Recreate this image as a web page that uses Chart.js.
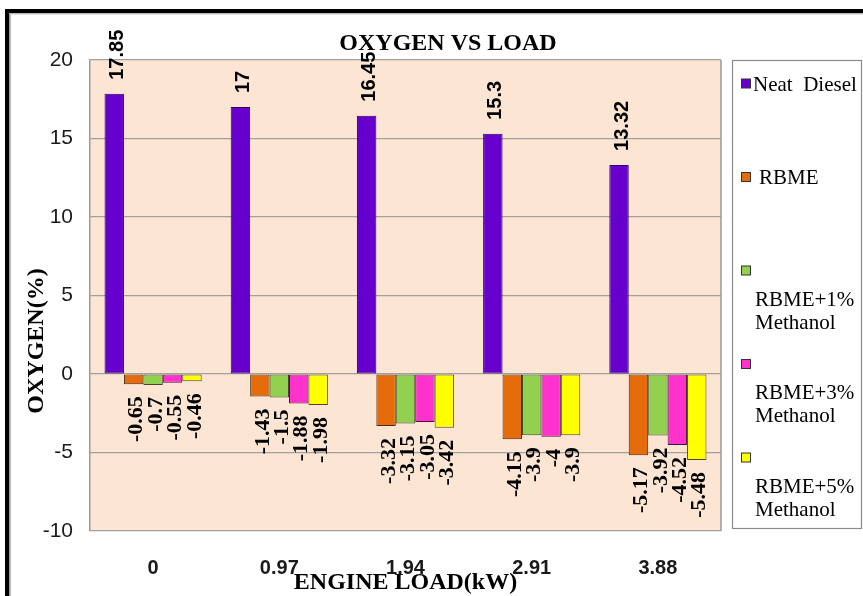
<!DOCTYPE html>
<html>
<head>
<meta charset="utf-8">
<title>OXYGEN VS LOAD</title>
<script src="https://cdn.jsdelivr.net/npm/chart.js@4.4.1/dist/chart.umd.min.js"></script>
<style>
  html, body { margin: 0; padding: 0; background: #ffffff; }
  #wrap { width: 863px; height: 596px; position: relative; }
  canvas { display: block; }
</style>
</head>
<body>
<div id="wrap"><canvas id="chart" width="863" height="596"></canvas></div>
<script>
// Engine load categories (kW)
const loads = ['0', '0.97', '1.94', '2.91', '3.88'];

// Oxygen (%) for each fuel
const neatDiesel = [17.85, 17, 16.45, 15.3, 13.32];
const rbme       = [-0.65, -1.43, -3.32, -4.15, -5.17];
const rbme1      = [-0.7, -1.5, -3.15, -3.9, -3.92];
const rbme3      = [-0.55, -1.88, -3.05, -4, -4.52];
const rbme5      = [-0.46, -1.98, -3.42, -3.9, -5.48];

const seriesNames = ['Neat  Diesel', 'RBME', 'RBME+1% Methanol', 'RBME+3% Methanol', 'RBME+5% Methanol'];
const seriesData = [neatDiesel, rbme, rbme1, rbme3, rbme5];
const fillColors = ['#6600CC', '#E46C0A', '#92D050', '#FF33CC', '#FFFF00'];
const edgeColors = ['#2e0060', '#4a2a10', '#3d4a2a', '#4a1040', '#4a4a20'];

// Y axis range
const yMin = -10, yMax = 20, yStep = 5;

const SERIF = '"Liberation Serif", "Times New Roman", Times, serif';
const SANS = '"Liberation Sans", Arial, Helvetica, sans-serif';

// Outer frame, plot background and right border of the plot area
const framePlugin = {
  id: 'frame',
  beforeDraw(chart) {
    const { ctx, chartArea: a, width, height } = chart;
    ctx.save();
    ctx.fillStyle = '#ffffff';
    ctx.fillRect(0, 0, width, height);
    // thick black frame (top and left)
    ctx.fillStyle = '#000000';
    ctx.fillRect(5, 9, width - 5, 4);
    ctx.fillRect(5, 9, 4.5, height - 9);
    // thin grey inner line
    ctx.fillStyle = '#bdbdbd';
    ctx.fillRect(9.5, 13, width - 9.5, 1.5);
    ctx.fillRect(9.5, 13, 1.5, height - 13);
    // peach plot background
    ctx.fillStyle = '#FDE5D3';
    ctx.fillRect(a.left, a.top, a.right - a.left, a.bottom - a.top);
    ctx.restore();
  },
  afterDraw(chart) {
    const { ctx, chartArea: a } = chart;
    ctx.save();
    ctx.strokeStyle = '#9a9a9a';
    ctx.lineWidth = 1.5;
    ctx.beginPath();
    ctx.moveTo(a.right, a.top);
    ctx.lineTo(a.right, a.bottom);
    ctx.stroke();
    ctx.restore();
  }
};

// Chart title and rotated y-axis title
const titlesPlugin = {
  id: 'titles',
  afterDraw(chart) {
    const { ctx } = chart;
    ctx.save();
    ctx.fillStyle = '#000000';
    ctx.font = 'bold 24px ' + SERIF;
    ctx.textAlign = 'center';
    ctx.textBaseline = 'alphabetic';
    ctx.fillText('OXYGEN VS LOAD', 448, 50);

    ctx.translate(43, 341);
    ctx.rotate(-Math.PI / 2);
    ctx.fillText('OXYGEN(%)', 0, 0);
    ctx.restore();
  }
};

// Rotated value labels above positive bars and below negative bars
const valueLabelsPlugin = {
  id: 'valueLabels',
  afterDatasetsDraw(chart) {
    const { ctx } = chart;
    ctx.save();
    ctx.fillStyle = '#000000';
    ctx.textBaseline = 'middle';
    chart.data.datasets.forEach((ds, di) => {
      const meta = chart.getDatasetMeta(di);
      meta.data.forEach((bar, i) => {
        const v = ds.data[i];
        const text = String(v);
        ctx.save();
        if (v >= 0) {
          ctx.font = 'bold 20px ' + SANS;
          ctx.translate(bar.x + 3, bar.y - 14);
          ctx.rotate(-Math.PI / 2);
          ctx.textAlign = 'left';
        } else {
          ctx.font = 'bold 22px ' + SERIF;
          ctx.translate(bar.x + 3, bar.y + 12);
          ctx.rotate(-Math.PI / 2);
          ctx.textAlign = 'right';
        }
        ctx.fillText(text, 0, 0);
        ctx.restore();
      });
    });
    ctx.restore();
  }
};

// Legend box on the right with stacked entries
const sideLegendPlugin = {
  id: 'sideLegend',
  afterDraw(chart) {
    const { ctx, chartArea: a } = chart;
    const left = a.right + 11, right = chart.width - 1;
    const top = a.top, bottom = a.bottom - 2;
    ctx.save();
    ctx.fillStyle = '#ffffff';
    ctx.fillRect(left, top, right - left, bottom - top);
    ctx.strokeStyle = '#8a8a8a';
    ctx.lineWidth = 1.2;
    ctx.strokeRect(left + 0.5, top + 0.5, right - left - 1, bottom - top - 1);

    ctx.font = '21px ' + SERIF;
    ctx.fillStyle = '#000000';
    ctx.textAlign = 'left';
    ctx.textBaseline = 'alphabetic';
    chart.data.datasets.forEach((ds, i) => {
      const cy = top + 23.5 + i * 93.5;
      const mx = left + 9;
      ctx.fillStyle = ds.backgroundColor;
      ctx.fillRect(mx, cy - 4.5, 10, 9);
      ctx.strokeStyle = '#333333';
      ctx.lineWidth = 1;
      ctx.strokeRect(mx + 0.5, cy - 4.5, 9, 9);
      ctx.fillStyle = '#000000';
      const lines = ds.label.includes('Methanol') ? ds.label.split(' ') : [ds.label];
      if (lines.length === 1) {
        ctx.fillText(lines[0], mx + (i === 0 ? 12 : 18), cy + 7);
      } else {
        ctx.fillText(lines[0], mx + 14, cy + 35);
        ctx.fillText(lines[1], mx + 14, cy + 58);
      }
    });
    ctx.restore();
  }
};

const datasets = seriesData.map((vals, i) => ({
  label: seriesNames[i],
  data: vals,
  backgroundColor: fillColors[i],
  borderColor: edgeColors[i],
  borderWidth: 1,
  borderSkipped: false,
  categoryPercentage: 0.77,
  barPercentage: 1.0
}));

new Chart(document.getElementById('chart'), {
  type: 'bar',
  data: { labels: loads, datasets },
  plugins: [framePlugin, valueLabelsPlugin, titlesPlugin, sideLegendPlugin],
  options: {
    responsive: false,
    devicePixelRatio: 1,
    animation: false,
    layout: { padding: { left: 0, top: 60, right: 142, bottom: 0 } },
    plugins: {
      legend: { display: false },
      title: { display: false },
      tooltip: { enabled: false }
    },
    scales: {
      x: {
        grid: { display: false, drawTicks: false },
        border: { display: false },
        ticks: {
          color: '#1a1a1a',
          font: { family: SANS, size: 20, weight: 'bold' },
          padding: 25,
          maxRotation: 0
        },
        title: {
          display: true,
          text: 'ENGINE LOAD(kW)',
          color: '#000000',
          font: { family: SERIF, size: 24, weight: 'bold', lineHeight: 1 },
          padding: { top: 0, bottom: 1 }
        },
        afterFit(scale) { scale.height = 65; }
      },
      y: {
        min: yMin,
        max: yMax,
        grid: { color: '#a0a0a0', lineWidth: 1.2, drawTicks: false },
        border: { display: true, color: '#9a9a9a', width: 1.5 },
        ticks: {
          stepSize: yStep,
          color: '#1a1a1a',
          font: { family: SANS, size: 21 },
          padding: 17
        },
        afterFit(scale) { scale.width = 90; }
      }
    }
  }
});
</script>
</body>
</html>
